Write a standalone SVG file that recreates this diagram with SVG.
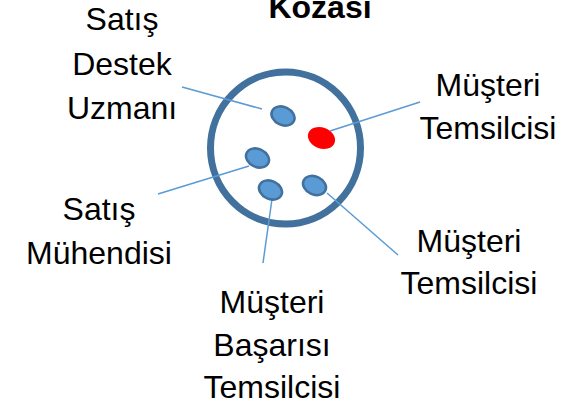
<svg xmlns="http://www.w3.org/2000/svg" width="562" height="401" viewBox="0 0 562 401">
<style>
.t{font-family:"Liberation Sans",Arial,sans-serif;font-size:32px;fill:#000;text-anchor:middle}
.title{font-weight:bold}
.c{stroke:#5B9BD5;stroke-width:1.5;fill:none}
.m{fill:#5B9BD5;stroke:#41719C;stroke-width:2.5}
</style>
<rect width="562" height="401" fill="#fff"/>
<g id="title"><text class="t title" x="320" y="18">Kozası</text></g>
<g id="ring"><ellipse cx="285.5" cy="148" rx="75" ry="76" fill="none" stroke="#41719C" stroke-width="7"/></g>
<g id="connectors">
<line class="c" x1="182" y1="87" x2="262" y2="109"/>
<line class="c" x1="330" y1="131" x2="420" y2="102"/>
<line class="c" x1="249" y1="166" x2="158" y2="194"/>
<line class="c" x1="272" y1="199" x2="263" y2="263"/>
<line class="c" x1="327" y1="193" x2="398" y2="255"/>
</g>
<g id="node-destek"><ellipse class="m" cx="283" cy="116" rx="12" ry="9" transform="rotate(25 283 116)"/></g>
<g id="node-temsilci1"><ellipse cx="321.5" cy="138" rx="14" ry="10.5" fill="#FF0000" transform="rotate(22 321.5 138)"/></g>
<g id="node-muhendis"><ellipse class="m" cx="257.5" cy="158" rx="12" ry="9" transform="rotate(25 257.5 158)"/></g>
<g id="node-basari"><ellipse class="m" cx="270.5" cy="190" rx="12" ry="9" transform="rotate(25 270.5 190)"/></g>
<g id="node-temsilci2"><ellipse class="m" cx="314.5" cy="185.5" rx="12" ry="9" transform="rotate(25 314.5 185.5)"/></g>
<g id="label-destek"><text class="t" x="122" y="30">Satış</text><text class="t" x="122" y="75">Destek</text><text class="t" x="122" y="119">Uzmanı</text></g>
<g id="label-temsilci1"><text class="t" x="488" y="96">Müşteri</text><text class="t" x="488" y="139">Temsilcisi</text></g>
<g id="label-muhendis"><text class="t" x="99" y="220">Satış</text><text class="t" x="99" y="264">Mühendisi</text></g>
<g id="label-basari"><text class="t" x="272" y="313">Müşteri</text><text class="t" x="272" y="356">Başarısı</text><text class="t" x="272" y="398">Temsilcisi</text></g>
<g id="label-temsilci2"><text class="t" x="469" y="252">Müşteri</text><text class="t" x="469" y="294">Temsilcisi</text></g>
</svg>
